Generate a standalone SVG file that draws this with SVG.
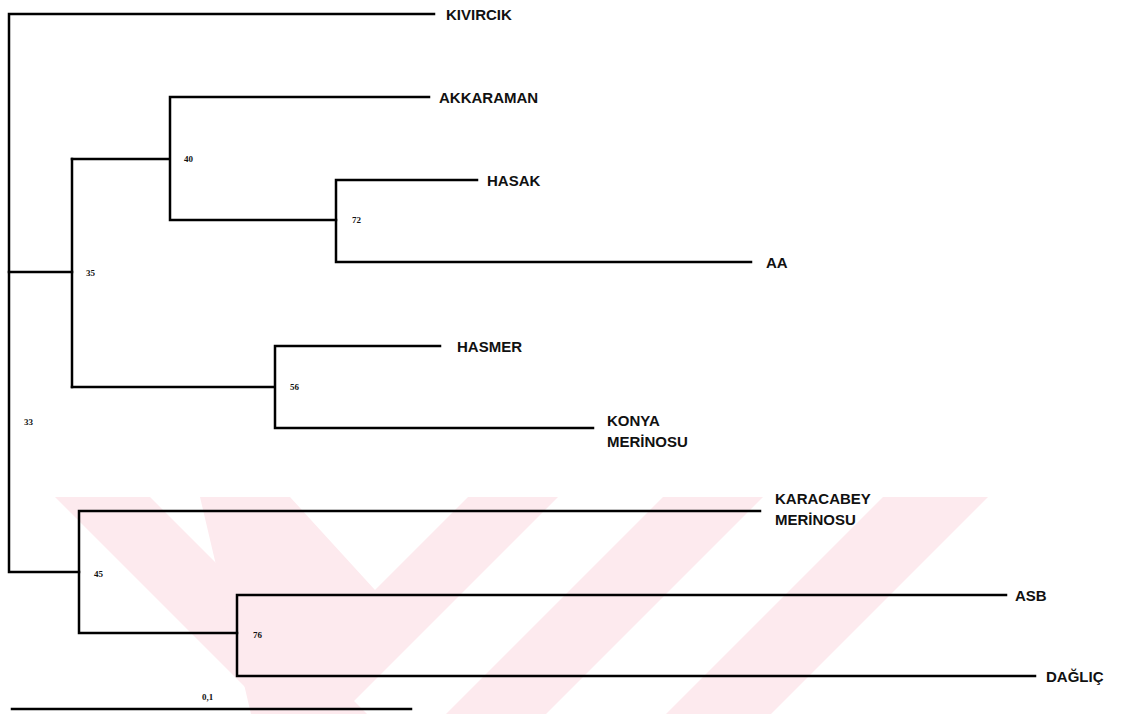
<svg xmlns="http://www.w3.org/2000/svg" width="1124" height="714" viewBox="0 0 1124 714">
<style>
.br{stroke:#000;stroke-width:2.5;fill:none;stroke-linecap:square}
.lb{font-family:"Liberation Sans",Arial,sans-serif;font-size:15px;font-weight:bold;fill:#111}
.bs{font-family:"Liberation Serif","Times New Roman",serif;font-size:9px;font-weight:bold;fill:#111}
.wm{fill:#fdeaee}
</style>
<rect width="1124" height="714" fill="#fff"/>
<g id="watermark">
<polygon class="wm" points="55,497 150,497 367,714 272,714"/>
<polygon class="wm" points="200,497 290,497 375,590 468,497 558,497 379,676 341,714 251,714"/>
<polygon class="wm" points="663,497 763,497 546,714 446,714"/>
<polygon class="wm" points="883,497 988,497 771,714 666,714"/>
</g>
<g id="connectors">
<path class="br" d="M434,14 H9 V572 H79"/>
<path class="br" d="M9,272 H72"/>
<path class="br" d="M72,159 V387"/>
<path class="br" d="M72,159 H170 M429,97 H170 V220 H336"/>
<path class="br" d="M477,180 H336 V262 H751"/>
<path class="br" d="M72,387 H275 M440,346 H275 V428 H593"/>
<path class="br" d="M760,511 H79 V633 H237"/>
<path class="br" d="M1006,595 H237 V676 H1035"/>
<path class="br" d="M12,709 H411"/>
</g>
<g id="n-kivircik"><text class="lb" x="446" y="20">KIVIRCIK</text></g>
<g id="n-akkaraman"><text class="lb" x="439" y="103">AKKARAMAN</text></g>
<g id="n-hasak"><text class="lb" x="487" y="186">HASAK</text></g>
<g id="n-aa"><text class="lb" x="766" y="268">AA</text></g>
<g id="n-hasmer"><text class="lb" x="457" y="352">HASMER</text></g>
<g id="n-konya"><text class="lb" x="607" y="426">KONYA</text><text class="lb" x="607" y="447">MERİNOSU</text></g>
<g id="n-karacabey"><text class="lb" x="775" y="504">KARACABEY</text><text class="lb" x="775" y="525">MERİNOSU</text></g>
<g id="n-asb"><text class="lb" x="1015" y="601">ASB</text></g>
<g id="n-daglic"><text class="lb" x="1046" y="682">DAĞLIÇ</text></g>
<g id="bootstrap">
<text class="bs" x="184" y="162">40</text>
<text class="bs" x="352" y="223">72</text>
<text class="bs" x="86" y="276">35</text>
<text class="bs" x="290" y="390">56</text>
<text class="bs" x="24" y="425">33</text>
<text class="bs" x="94" y="577">45</text>
<text class="bs" x="253" y="638">76</text>
<text class="bs" x="202" y="700">0,1</text>
</g>
</svg>
